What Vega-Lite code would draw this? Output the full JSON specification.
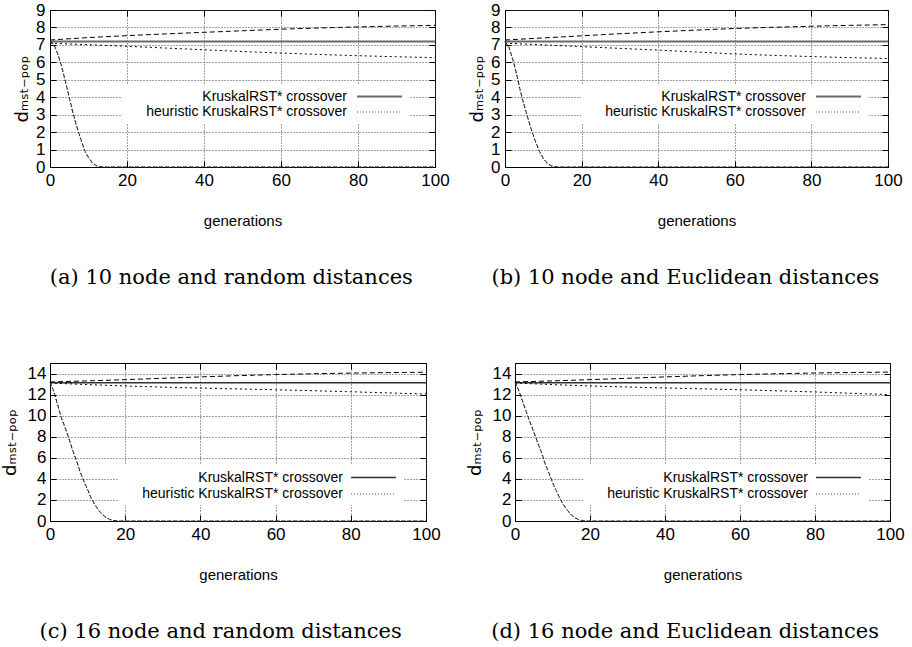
{
  "$schema": "https://vega.github.io/schema/vega-lite/v6.json",
  "padding": {"left": 0, "top": 0, "right": 5, "bottom": 5},
  "background": "#ffffff",
  "datasets": {
    "a": [
      {"g": 0, "d": 7.2, "s": "KruskalRST* crossover"}, {"g": 100, "d": 7.2, "s": "KruskalRST* crossover"},
      {"g": 0, "d": 7.28, "s": "up"}, {"g": 10, "d": 7.42, "s": "up"}, {"g": 20, "d": 7.53, "s": "up"}, {"g": 30, "d": 7.63, "s": "up"}, {"g": 40, "d": 7.72, "s": "up"}, {"g": 50, "d": 7.81, "s": "up"}, {"g": 60, "d": 7.9, "s": "up"}, {"g": 70, "d": 7.97, "s": "up"}, {"g": 80, "d": 8.03, "s": "up"}, {"g": 90, "d": 8.08, "s": "up"}, {"g": 100, "d": 8.12, "s": "up"},
      {"g": 0, "d": 7.1, "s": "down"}, {"g": 10, "d": 7.01, "s": "down"}, {"g": 20, "d": 6.92, "s": "down"}, {"g": 30, "d": 6.82, "s": "down"}, {"g": 40, "d": 6.72, "s": "down"}, {"g": 50, "d": 6.62, "s": "down"}, {"g": 60, "d": 6.53, "s": "down"}, {"g": 70, "d": 6.45, "s": "down"}, {"g": 80, "d": 6.38, "s": "down"}, {"g": 90, "d": 6.32, "s": "down"}, {"g": 100, "d": 6.27, "s": "down"},
      {"g": 0, "d": 7.2, "s": "heuristic KruskalRST* crossover"}, {"g": 1, "d": 7.0, "s": "heuristic KruskalRST* crossover"}, {"g": 2, "d": 6.45, "s": "heuristic KruskalRST* crossover"}, {"g": 3, "d": 5.75, "s": "heuristic KruskalRST* crossover"}, {"g": 4, "d": 4.85, "s": "heuristic KruskalRST* crossover"}, {"g": 5, "d": 3.95, "s": "heuristic KruskalRST* crossover"}, {"g": 6, "d": 3.0, "s": "heuristic KruskalRST* crossover"}, {"g": 7, "d": 2.25, "s": "heuristic KruskalRST* crossover"}, {"g": 8, "d": 1.55, "s": "heuristic KruskalRST* crossover"}, {"g": 9, "d": 0.9, "s": "heuristic KruskalRST* crossover"}, {"g": 10, "d": 0.5, "s": "heuristic KruskalRST* crossover"}, {"g": 11, "d": 0.22, "s": "heuristic KruskalRST* crossover"}, {"g": 12, "d": 0.07, "s": "heuristic KruskalRST* crossover"}, {"g": 13, "d": 0.01, "s": "heuristic KruskalRST* crossover"}, {"g": 14, "d": 0, "s": "heuristic KruskalRST* crossover"}, {"g": 100, "d": 0, "s": "heuristic KruskalRST* crossover"},
      {"g": 0, "d": 7.2, "s": "fall2"}, {"g": 1, "d": 7.05, "s": "fall2"}, {"g": 2, "d": 6.5, "s": "fall2"}, {"g": 3, "d": 5.8, "s": "fall2"}, {"g": 4, "d": 4.92, "s": "fall2"}, {"g": 5, "d": 4.0, "s": "fall2"}, {"g": 6, "d": 3.08, "s": "fall2"}, {"g": 7, "d": 2.3, "s": "fall2"}, {"g": 8, "d": 1.6, "s": "fall2"}, {"g": 9, "d": 0.95, "s": "fall2"}, {"g": 10, "d": 0.55, "s": "fall2"}, {"g": 11, "d": 0.25, "s": "fall2"}, {"g": 12, "d": 0.08, "s": "fall2"}, {"g": 13, "d": 0.02, "s": "fall2"}, {"g": 14, "d": 0, "s": "fall2"}, {"g": 100, "d": 0, "s": "fall2"}
    ],
    "b": [
      {"g": 0, "d": 7.2, "s": "KruskalRST* crossover"}, {"g": 100, "d": 7.2, "s": "KruskalRST* crossover"},
      {"g": 0, "d": 7.28, "s": "up"}, {"g": 10, "d": 7.4, "s": "up"}, {"g": 20, "d": 7.52, "s": "up"}, {"g": 30, "d": 7.64, "s": "up"}, {"g": 40, "d": 7.75, "s": "up"}, {"g": 50, "d": 7.85, "s": "up"}, {"g": 60, "d": 7.94, "s": "up"}, {"g": 70, "d": 8.01, "s": "up"}, {"g": 80, "d": 8.07, "s": "up"}, {"g": 90, "d": 8.12, "s": "up"}, {"g": 100, "d": 8.16, "s": "up"},
      {"g": 0, "d": 7.1, "s": "down"}, {"g": 10, "d": 7.0, "s": "down"}, {"g": 20, "d": 6.9, "s": "down"}, {"g": 30, "d": 6.8, "s": "down"}, {"g": 40, "d": 6.7, "s": "down"}, {"g": 50, "d": 6.59, "s": "down"}, {"g": 60, "d": 6.48, "s": "down"}, {"g": 70, "d": 6.4, "s": "down"}, {"g": 80, "d": 6.33, "s": "down"}, {"g": 90, "d": 6.27, "s": "down"}, {"g": 100, "d": 6.22, "s": "down"},
      {"g": 0, "d": 7.2, "s": "heuristic KruskalRST* crossover"}, {"g": 1, "d": 6.85, "s": "heuristic KruskalRST* crossover"}, {"g": 2, "d": 6.15, "s": "heuristic KruskalRST* crossover"}, {"g": 3, "d": 5.3, "s": "heuristic KruskalRST* crossover"}, {"g": 4, "d": 4.3, "s": "heuristic KruskalRST* crossover"}, {"g": 5, "d": 3.5, "s": "heuristic KruskalRST* crossover"}, {"g": 6, "d": 2.75, "s": "heuristic KruskalRST* crossover"}, {"g": 7, "d": 2.0, "s": "heuristic KruskalRST* crossover"}, {"g": 8, "d": 1.4, "s": "heuristic KruskalRST* crossover"}, {"g": 9, "d": 0.85, "s": "heuristic KruskalRST* crossover"}, {"g": 10, "d": 0.45, "s": "heuristic KruskalRST* crossover"}, {"g": 11, "d": 0.2, "s": "heuristic KruskalRST* crossover"}, {"g": 12, "d": 0.06, "s": "heuristic KruskalRST* crossover"}, {"g": 13, "d": 0.01, "s": "heuristic KruskalRST* crossover"}, {"g": 14, "d": 0, "s": "heuristic KruskalRST* crossover"}, {"g": 100, "d": 0, "s": "heuristic KruskalRST* crossover"},
      {"g": 0, "d": 7.2, "s": "fall2"}, {"g": 1, "d": 6.9, "s": "fall2"}, {"g": 2, "d": 6.2, "s": "fall2"}, {"g": 3, "d": 5.38, "s": "fall2"}, {"g": 4, "d": 4.38, "s": "fall2"}, {"g": 5, "d": 3.56, "s": "fall2"}, {"g": 6, "d": 2.8, "s": "fall2"}, {"g": 7, "d": 2.06, "s": "fall2"}, {"g": 8, "d": 1.45, "s": "fall2"}, {"g": 9, "d": 0.9, "s": "fall2"}, {"g": 10, "d": 0.5, "s": "fall2"}, {"g": 11, "d": 0.23, "s": "fall2"}, {"g": 12, "d": 0.08, "s": "fall2"}, {"g": 13, "d": 0.02, "s": "fall2"}, {"g": 14, "d": 0, "s": "fall2"}, {"g": 100, "d": 0, "s": "fall2"}
    ],
    "c": [
      {"g": 0, "d": 13.12, "s": "KruskalRST* crossover"}, {"g": 100, "d": 13.12, "s": "KruskalRST* crossover"},
      {"g": 0, "d": 13.2, "s": "up"}, {"g": 10, "d": 13.3, "s": "up"}, {"g": 20, "d": 13.42, "s": "up"}, {"g": 30, "d": 13.55, "s": "up"}, {"g": 40, "d": 13.68, "s": "up"}, {"g": 50, "d": 13.8, "s": "up"}, {"g": 60, "d": 13.9, "s": "up"}, {"g": 70, "d": 13.98, "s": "up"}, {"g": 80, "d": 14.04, "s": "up"}, {"g": 90, "d": 14.09, "s": "up"}, {"g": 100, "d": 14.12, "s": "up"},
      {"g": 0, "d": 13.1, "s": "down"}, {"g": 10, "d": 12.95, "s": "down"}, {"g": 20, "d": 12.82, "s": "down"}, {"g": 30, "d": 12.71, "s": "down"}, {"g": 40, "d": 12.62, "s": "down"}, {"g": 50, "d": 12.54, "s": "down"}, {"g": 60, "d": 12.46, "s": "down"}, {"g": 70, "d": 12.37, "s": "down"}, {"g": 80, "d": 12.27, "s": "down"}, {"g": 90, "d": 12.16, "s": "down"}, {"g": 100, "d": 12.05, "s": "down"},
      {"g": 0, "d": 13.2, "s": "heuristic KruskalRST* crossover"}, {"g": 1, "d": 12.25, "s": "heuristic KruskalRST* crossover"}, {"g": 2, "d": 11.0, "s": "heuristic KruskalRST* crossover"}, {"g": 3, "d": 9.75, "s": "heuristic KruskalRST* crossover"}, {"g": 4, "d": 8.8, "s": "heuristic KruskalRST* crossover"}, {"g": 5, "d": 7.8, "s": "heuristic KruskalRST* crossover"}, {"g": 6, "d": 6.65, "s": "heuristic KruskalRST* crossover"}, {"g": 7, "d": 5.7, "s": "heuristic KruskalRST* crossover"}, {"g": 8, "d": 4.6, "s": "heuristic KruskalRST* crossover"}, {"g": 9, "d": 3.7, "s": "heuristic KruskalRST* crossover"}, {"g": 10, "d": 2.9, "s": "heuristic KruskalRST* crossover"}, {"g": 11, "d": 2.05, "s": "heuristic KruskalRST* crossover"}, {"g": 12, "d": 1.45, "s": "heuristic KruskalRST* crossover"}, {"g": 13, "d": 0.95, "s": "heuristic KruskalRST* crossover"}, {"g": 14, "d": 0.55, "s": "heuristic KruskalRST* crossover"}, {"g": 15, "d": 0.28, "s": "heuristic KruskalRST* crossover"}, {"g": 16, "d": 0.12, "s": "heuristic KruskalRST* crossover"}, {"g": 17, "d": 0.04, "s": "heuristic KruskalRST* crossover"}, {"g": 18, "d": 0, "s": "heuristic KruskalRST* crossover"}, {"g": 100, "d": 0, "s": "heuristic KruskalRST* crossover"},
      {"g": 0, "d": 13.2, "s": "fall2"}, {"g": 1, "d": 12.32, "s": "fall2"}, {"g": 2, "d": 11.1, "s": "fall2"}, {"g": 3, "d": 9.85, "s": "fall2"}, {"g": 4, "d": 8.9, "s": "fall2"}, {"g": 5, "d": 7.9, "s": "fall2"}, {"g": 6, "d": 6.75, "s": "fall2"}, {"g": 7, "d": 5.8, "s": "fall2"}, {"g": 8, "d": 4.7, "s": "fall2"}, {"g": 9, "d": 3.8, "s": "fall2"}, {"g": 10, "d": 3.0, "s": "fall2"}, {"g": 11, "d": 2.15, "s": "fall2"}, {"g": 12, "d": 1.52, "s": "fall2"}, {"g": 13, "d": 1.0, "s": "fall2"}, {"g": 14, "d": 0.6, "s": "fall2"}, {"g": 15, "d": 0.32, "s": "fall2"}, {"g": 16, "d": 0.14, "s": "fall2"}, {"g": 17, "d": 0.05, "s": "fall2"}, {"g": 18, "d": 0, "s": "fall2"}, {"g": 100, "d": 0, "s": "fall2"}
    ],
    "d": [
      {"g": 0, "d": 13.12, "s": "KruskalRST* crossover"}, {"g": 100, "d": 13.12, "s": "KruskalRST* crossover"},
      {"g": 0, "d": 13.2, "s": "up"}, {"g": 10, "d": 13.3, "s": "up"}, {"g": 20, "d": 13.42, "s": "up"}, {"g": 30, "d": 13.55, "s": "up"}, {"g": 40, "d": 13.68, "s": "up"}, {"g": 50, "d": 13.8, "s": "up"}, {"g": 60, "d": 13.9, "s": "up"}, {"g": 70, "d": 13.98, "s": "up"}, {"g": 80, "d": 14.05, "s": "up"}, {"g": 90, "d": 14.1, "s": "up"}, {"g": 100, "d": 14.14, "s": "up"},
      {"g": 0, "d": 13.1, "s": "down"}, {"g": 10, "d": 12.95, "s": "down"}, {"g": 20, "d": 12.82, "s": "down"}, {"g": 30, "d": 12.72, "s": "down"}, {"g": 40, "d": 12.63, "s": "down"}, {"g": 50, "d": 12.55, "s": "down"}, {"g": 60, "d": 12.46, "s": "down"}, {"g": 70, "d": 12.36, "s": "down"}, {"g": 80, "d": 12.25, "s": "down"}, {"g": 90, "d": 12.12, "s": "down"}, {"g": 100, "d": 12.0, "s": "down"},
      {"g": 0, "d": 13.2, "s": "heuristic KruskalRST* crossover"}, {"g": 1, "d": 12.35, "s": "heuristic KruskalRST* crossover"}, {"g": 2, "d": 11.3, "s": "heuristic KruskalRST* crossover"}, {"g": 3, "d": 10.3, "s": "heuristic KruskalRST* crossover"}, {"g": 4, "d": 9.3, "s": "heuristic KruskalRST* crossover"}, {"g": 5, "d": 8.4, "s": "heuristic KruskalRST* crossover"}, {"g": 6, "d": 7.4, "s": "heuristic KruskalRST* crossover"}, {"g": 7, "d": 6.5, "s": "heuristic KruskalRST* crossover"}, {"g": 8, "d": 5.4, "s": "heuristic KruskalRST* crossover"}, {"g": 9, "d": 4.5, "s": "heuristic KruskalRST* crossover"}, {"g": 10, "d": 3.6, "s": "heuristic KruskalRST* crossover"}, {"g": 11, "d": 2.8, "s": "heuristic KruskalRST* crossover"}, {"g": 12, "d": 2.05, "s": "heuristic KruskalRST* crossover"}, {"g": 13, "d": 1.45, "s": "heuristic KruskalRST* crossover"}, {"g": 14, "d": 0.95, "s": "heuristic KruskalRST* crossover"}, {"g": 15, "d": 0.55, "s": "heuristic KruskalRST* crossover"}, {"g": 16, "d": 0.28, "s": "heuristic KruskalRST* crossover"}, {"g": 17, "d": 0.1, "s": "heuristic KruskalRST* crossover"}, {"g": 18, "d": 0.03, "s": "heuristic KruskalRST* crossover"}, {"g": 19, "d": 0, "s": "heuristic KruskalRST* crossover"}, {"g": 100, "d": 0, "s": "heuristic KruskalRST* crossover"},
      {"g": 0, "d": 13.2, "s": "fall2"}, {"g": 1, "d": 12.42, "s": "fall2"}, {"g": 2, "d": 11.4, "s": "fall2"}, {"g": 3, "d": 10.4, "s": "fall2"}, {"g": 4, "d": 9.4, "s": "fall2"}, {"g": 5, "d": 8.5, "s": "fall2"}, {"g": 6, "d": 7.5, "s": "fall2"}, {"g": 7, "d": 6.6, "s": "fall2"}, {"g": 8, "d": 5.5, "s": "fall2"}, {"g": 9, "d": 4.6, "s": "fall2"}, {"g": 10, "d": 3.7, "s": "fall2"}, {"g": 11, "d": 2.9, "s": "fall2"}, {"g": 12, "d": 2.12, "s": "fall2"}, {"g": 13, "d": 1.52, "s": "fall2"}, {"g": 14, "d": 1.0, "s": "fall2"}, {"g": 15, "d": 0.6, "s": "fall2"}, {"g": 16, "d": 0.31, "s": "fall2"}, {"g": 17, "d": 0.12, "s": "fall2"}, {"g": 18, "d": 0.04, "s": "fall2"}, {"g": 19, "d": 0, "s": "fall2"}, {"g": 100, "d": 0, "s": "fall2"}
    ]
  },
  "columns": 1,
  "align": "none",
  "spacing": 73,
  "resolve": {
    "scale": {"color": "independent", "strokeDash": "independent", "strokeWidth": "independent"},
    "legend": {"color": "independent", "strokeDash": "independent", "strokeWidth": "independent"}
  },
  "concat": [
    {
      "spacing": 18,
      "resolve": {
        "scale": {"color": "independent", "strokeDash": "independent", "strokeWidth": "independent"},
        "legend": {"color": "independent", "strokeDash": "independent", "strokeWidth": "independent"}
      },
      "hconcat": [
        {
          "width": 385, "height": 157,
          "data": {"name": "a"},
          "title": {"text": "(a) 10 node and random distances"},
          "resolve": {"axis": {"x": "independent", "y": "independent"}},
          "layer": [
            {
              "mark": {"type": "line"},
              "encoding": {
                "x": {"field": "g", "type": "quantitative", "scale": {"domain": [0, 100], "nice": false}, "axis": {"values": [0, 20, 40, 60, 80, 100], "title": "generations"}},
                "y": {"field": "d", "type": "quantitative", "scale": {"domain": [0, 9], "nice": false}, "axis": {"values": [0, 1, 2, 3, 4, 5, 6, 7, 8, 9], "title": "dₘₛₜ₋ₚₒₚ", "titlePadding": 4, "labelPadding": 11}},
                "color": {"field": "s", "type": "nominal", "scale": {"domain": ["KruskalRST* crossover", "heuristic KruskalRST* crossover", "up", "down", "fall2"], "range": ["#6a6a6a", "#444444", "#000000", "#000000", "#222222"]}, "legend": {"values": ["KruskalRST* crossover", "heuristic KruskalRST* crossover"], "orient": "none", "legendX": 72, "legendY": 74, "rowPadding": -2, "symbolOffset": 245, "labelOffset": -41}},
                "strokeDash": {"field": "s", "type": "nominal", "scale": {"domain": ["KruskalRST* crossover", "heuristic KruskalRST* crossover", "up", "down", "fall2"], "range": [[1, 0], [1, 2], [5, 3], [2, 3], [4, 2]]}, "legend": {"values": ["KruskalRST* crossover", "heuristic KruskalRST* crossover"], "orient": "none", "legendX": 72, "legendY": 74, "rowPadding": -2, "symbolOffset": 245, "labelOffset": -41}},
                "strokeWidth": {"field": "s", "type": "nominal", "scale": {"type": "ordinal", "domain": ["KruskalRST* crossover", "heuristic KruskalRST* crossover", "up", "down", "fall2"], "range": [2, 1, 1, 1, 1]}, "legend": {"values": ["KruskalRST* crossover", "heuristic KruskalRST* crossover"], "orient": "none", "legendX": 72, "legendY": 74, "rowPadding": -2, "symbolOffset": 245, "labelOffset": -41}}
              }
            },
            {
              "mark": {"type": "line", "opacity": 0},
              "encoding": {
                "x": {"field": "g", "type": "quantitative", "axis": {"orient": "top", "values": [0, 20, 40, 60, 80, 100], "labels": false, "grid": false, "domain": false, "title": null}},
                "y": {"field": "d", "type": "quantitative", "axis": {"orient": "right", "values": [0, 1, 2, 3, 4, 5, 6, 7, 8, 9], "labels": false, "grid": false, "domain": false, "title": null}},
                "detail": {"field": "s", "type": "nominal"}
              }
            }
          ]
        },
        {
          "width": 383, "height": 157,
          "data": {"name": "b"},
          "title": {"text": "(b) 10 node and Euclidean distances"},
          "resolve": {"axis": {"x": "independent", "y": "independent"}},
          "layer": [
            {
              "mark": {"type": "line"},
              "encoding": {
                "x": {"field": "g", "type": "quantitative", "scale": {"domain": [0, 100], "nice": false}, "axis": {"values": [0, 20, 40, 60, 80, 100], "title": "generations"}},
                "y": {"field": "d", "type": "quantitative", "scale": {"domain": [0, 9], "nice": false}, "axis": {"values": [0, 1, 2, 3, 4, 5, 6, 7, 8, 9], "title": "dₘₛₜ₋ₚₒₚ", "titlePadding": 4, "labelPadding": 11}},
                "color": {"field": "s", "type": "nominal", "scale": {"domain": ["KruskalRST* crossover", "heuristic KruskalRST* crossover", "up", "down", "fall2"], "range": ["#6a6a6a", "#444444", "#000000", "#000000", "#222222"]}, "legend": {"values": ["KruskalRST* crossover", "heuristic KruskalRST* crossover"], "orient": "none", "legendX": 76, "legendY": 74, "rowPadding": -2, "symbolOffset": 245, "labelOffset": -41}},
                "strokeDash": {"field": "s", "type": "nominal", "scale": {"domain": ["KruskalRST* crossover", "heuristic KruskalRST* crossover", "up", "down", "fall2"], "range": [[1, 0], [1, 2], [5, 3], [2, 3], [4, 2]]}, "legend": {"values": ["KruskalRST* crossover", "heuristic KruskalRST* crossover"], "orient": "none", "legendX": 76, "legendY": 74, "rowPadding": -2, "symbolOffset": 245, "labelOffset": -41}},
                "strokeWidth": {"field": "s", "type": "nominal", "scale": {"type": "ordinal", "domain": ["KruskalRST* crossover", "heuristic KruskalRST* crossover", "up", "down", "fall2"], "range": [2, 1, 1, 1, 1]}, "legend": {"values": ["KruskalRST* crossover", "heuristic KruskalRST* crossover"], "orient": "none", "legendX": 76, "legendY": 74, "rowPadding": -2, "symbolOffset": 245, "labelOffset": -41}}
              }
            },
            {
              "mark": {"type": "line", "opacity": 0},
              "encoding": {
                "x": {"field": "g", "type": "quantitative", "axis": {"orient": "top", "values": [0, 20, 40, 60, 80, 100], "labels": false, "grid": false, "domain": false, "title": null}},
                "y": {"field": "d", "type": "quantitative", "axis": {"orient": "right", "values": [0, 1, 2, 3, 4, 5, 6, 7, 8, 9], "labels": false, "grid": false, "domain": false, "title": null}},
                "detail": {"field": "s", "type": "nominal"}
              }
            }
          ]
        }
      ]
    },
    {
      "spacing": 24,
      "resolve": {
        "scale": {"color": "independent", "strokeDash": "independent", "strokeWidth": "independent"},
        "legend": {"color": "independent", "strokeDash": "independent", "strokeWidth": "independent"}
      },
      "hconcat": [
        {
          "width": 376, "height": 158,
          "data": {"name": "c"},
          "title": {"text": "(c) 16 node and random distances"},
          "resolve": {"axis": {"x": "independent", "y": "independent"}},
          "layer": [
            {
              "mark": {"type": "line"},
              "encoding": {
                "x": {"field": "g", "type": "quantitative", "scale": {"domain": [0, 100], "nice": false}, "axis": {"values": [0, 20, 40, 60, 80, 100], "title": "generations"}},
                "y": {"field": "d", "type": "quantitative", "scale": {"domain": [0, 15], "nice": false}, "axis": {"values": [0, 2, 4, 6, 8, 10, 12, 14], "title": "dₘₛₜ₋ₚₒₚ", "titlePadding": 8, "labelPadding": 10}},
                "color": {"field": "s", "type": "nominal", "scale": {"domain": ["KruskalRST* crossover", "heuristic KruskalRST* crossover", "up", "down", "fall2"], "range": ["#333333", "#555555", "#000000", "#000000", "#222222"]}, "legend": {"values": ["KruskalRST* crossover", "heuristic KruskalRST* crossover"], "orient": "none", "legendX": 68, "legendY": 102, "rowPadding": 1, "symbolOffset": 243, "labelOffset": -39}},
                "strokeDash": {"field": "s", "type": "nominal", "scale": {"domain": ["KruskalRST* crossover", "heuristic KruskalRST* crossover", "up", "down", "fall2"], "range": [[1, 0], [1, 2], [5, 3], [2, 3], [4, 2]]}, "legend": {"values": ["KruskalRST* crossover", "heuristic KruskalRST* crossover"], "orient": "none", "legendX": 68, "legendY": 102, "rowPadding": 1, "symbolOffset": 243, "labelOffset": -39}},
                "strokeWidth": {"field": "s", "type": "nominal", "scale": {"type": "ordinal", "domain": ["KruskalRST* crossover", "heuristic KruskalRST* crossover", "up", "down", "fall2"], "range": [1.5, 1, 1, 1, 1]}, "legend": {"values": ["KruskalRST* crossover", "heuristic KruskalRST* crossover"], "orient": "none", "legendX": 68, "legendY": 102, "rowPadding": 1, "symbolOffset": 243, "labelOffset": -39}}
              }
            },
            {
              "mark": {"type": "line", "opacity": 0},
              "encoding": {
                "x": {"field": "g", "type": "quantitative", "axis": {"orient": "top", "values": [0, 20, 40, 60, 80, 100], "labels": false, "grid": false, "domain": false, "title": null}},
                "y": {"field": "d", "type": "quantitative", "axis": {"orient": "right", "values": [0, 2, 4, 6, 8, 10, 12, 14], "labels": false, "grid": false, "domain": false, "title": null}},
                "detail": {"field": "s", "type": "nominal"}
              }
            }
          ]
        },
        {
          "width": 375, "height": 158,
          "data": {"name": "d"},
          "title": {"text": "(d) 16 node and Euclidean distances"},
          "resolve": {"axis": {"x": "independent", "y": "independent"}},
          "layer": [
            {
              "mark": {"type": "line"},
              "encoding": {
                "x": {"field": "g", "type": "quantitative", "scale": {"domain": [0, 100], "nice": false}, "axis": {"values": [0, 20, 40, 60, 80, 100], "title": "generations"}},
                "y": {"field": "d", "type": "quantitative", "scale": {"domain": [0, 15], "nice": false}, "axis": {"values": [0, 2, 4, 6, 8, 10, 12, 14], "title": "dₘₛₜ₋ₚₒₚ", "titlePadding": 8, "labelPadding": 10}},
                "color": {"field": "s", "type": "nominal", "scale": {"domain": ["KruskalRST* crossover", "heuristic KruskalRST* crossover", "up", "down", "fall2"], "range": ["#333333", "#555555", "#000000", "#000000", "#222222"]}, "legend": {"values": ["KruskalRST* crossover", "heuristic KruskalRST* crossover"], "orient": "none", "legendX": 68, "legendY": 102, "rowPadding": 1, "symbolOffset": 243, "labelOffset": -39}},
                "strokeDash": {"field": "s", "type": "nominal", "scale": {"domain": ["KruskalRST* crossover", "heuristic KruskalRST* crossover", "up", "down", "fall2"], "range": [[1, 0], [1, 2], [5, 3], [2, 3], [4, 2]]}, "legend": {"values": ["KruskalRST* crossover", "heuristic KruskalRST* crossover"], "orient": "none", "legendX": 68, "legendY": 102, "rowPadding": 1, "symbolOffset": 243, "labelOffset": -39}},
                "strokeWidth": {"field": "s", "type": "nominal", "scale": {"type": "ordinal", "domain": ["KruskalRST* crossover", "heuristic KruskalRST* crossover", "up", "down", "fall2"], "range": [1.5, 1, 1, 1, 1]}, "legend": {"values": ["KruskalRST* crossover", "heuristic KruskalRST* crossover"], "orient": "none", "legendX": 68, "legendY": 102, "rowPadding": 1, "symbolOffset": 243, "labelOffset": -39}}
              }
            },
            {
              "mark": {"type": "line", "opacity": 0},
              "encoding": {
                "x": {"field": "g", "type": "quantitative", "axis": {"orient": "top", "values": [0, 20, 40, 60, 80, 100], "labels": false, "grid": false, "domain": false, "title": null}},
                "y": {"field": "d", "type": "quantitative", "axis": {"orient": "right", "values": [0, 2, 4, 6, 8, 10, 12, 14], "labels": false, "grid": false, "domain": false, "title": null}},
                "detail": {"field": "s", "type": "nominal"}
              }
            }
          ]
        }
      ]
    }
  ],
  "config": {
    "view": {"stroke": "#000000", "strokeWidth": 1},
    "axis": {
      "labelFont": "Liberation Sans", "labelFontSize": 17, "labelColor": "#000000", "labelFlush": false,
      "titleFont": "Liberation Sans", "titleFontWeight": "normal", "titleColor": "#000000", "titleFontSize": 15,
      "domainColor": "#000000", "tickColor": "#000000", "tickSize": -6,
      "gridColor": "#444444", "gridDash": [1, 2], "gridOpacity": 1, "gridWidth": 1
    },
    "axisX": {"titlePadding": 25, "labelPadding": 11},
    "axisY": {"titleFont": "DejaVu Sans", "titleFontSize": 18},
    "legend": {
      "title": null, "symbolType": "M-3,0H3", "symbolSize": 225,
      "labelAlign": "right", "labelLimit": 400,
      "labelFont": "Liberation Sans", "labelFontSize": 14, "labelColor": "#000000",
      "fillColor": "#ffffff", "padding": 4, "strokeColor": null
    },
    "title": {"orient": "bottom", "font": "DejaVu Serif", "fontSize": 21, "fontWeight": "normal", "color": "#000000", "frame": "bounds", "anchor": "middle", "offset": 39}
  }
}
